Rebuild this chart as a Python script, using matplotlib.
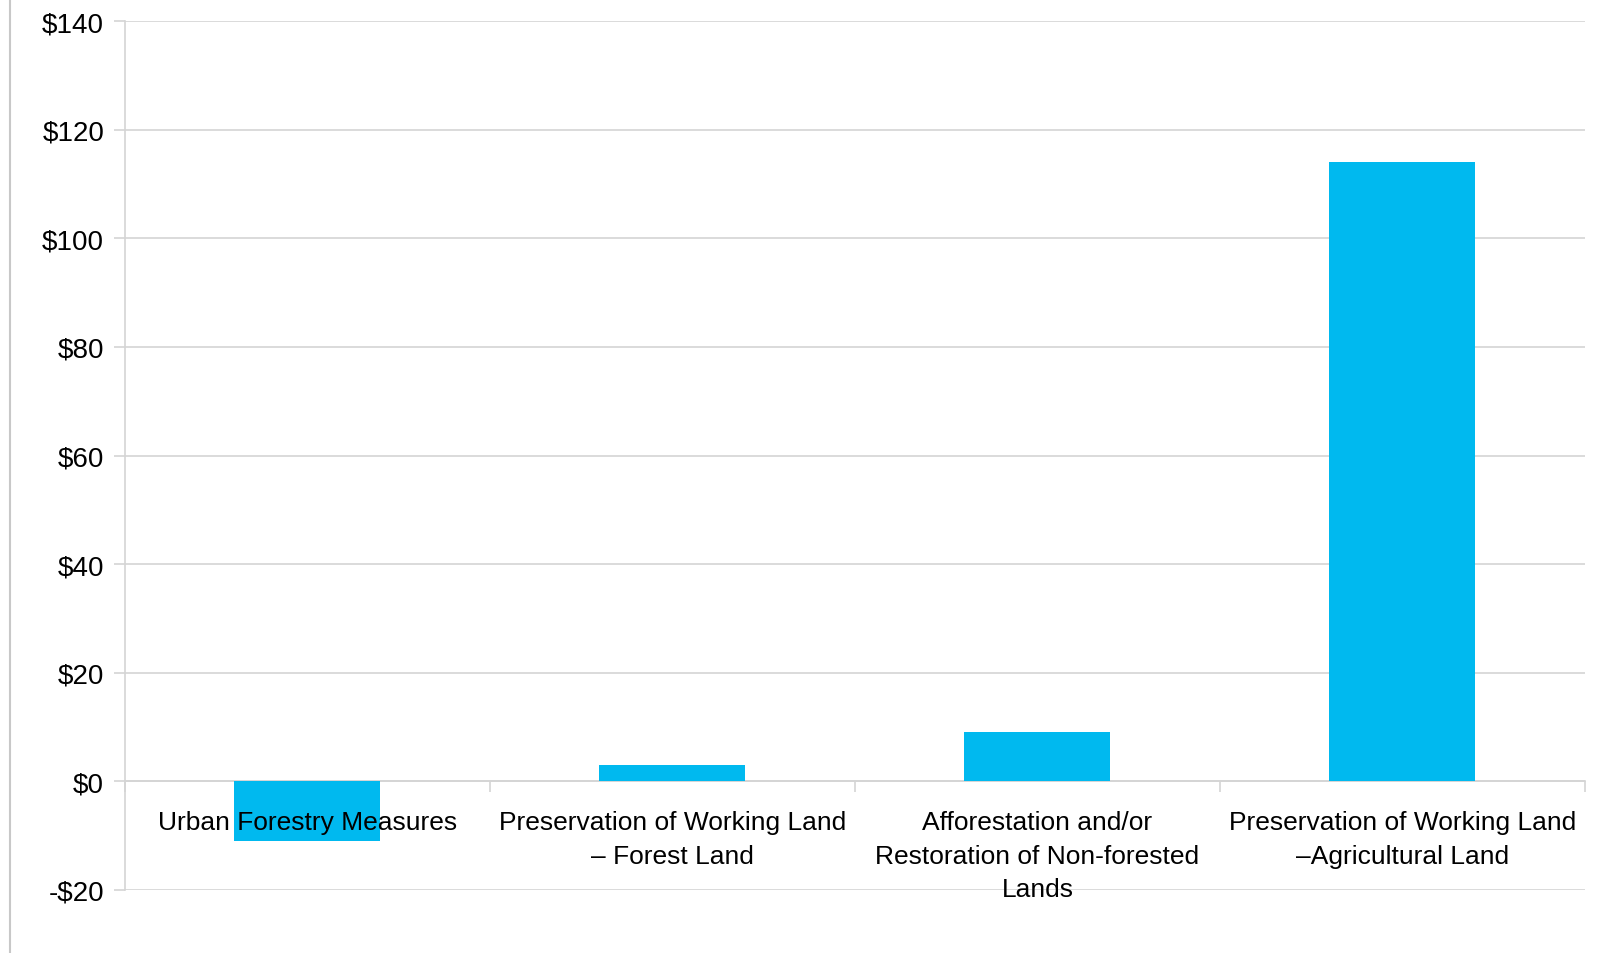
import matplotlib.pyplot as plt
import numpy as np

categories = ["Urban Forestry Measures",
              "Preservation of Working Land\n\u2013 Forest Land",
              "Afforestation and/or\nRestoration of Non-forested\nLands",
              "Preservation of Working Land\n\u2013Agricultural Land"]
values = [-11, 3, 9, 114]
yticks = [-20, 0, 20, 40, 60, 80, 100, 120, 140]

plt.rcParams['font.family'] = ['Liberation Sans', 'DejaVu Sans']
fig = plt.figure(figsize=(16.08, 9.54), dpi=100)
ax = fig.add_axes([125 / 1608, 1 - 891 / 954, 1460 / 1608, (891 - 22) / 954])

x = np.arange(len(categories))
ax.bar(x, values, width=0.4, color="#00b9ef", zorder=3)

ax.set_xlim(-0.5, len(categories) - 0.5)
ax.set_ylim(-20, 140)
ax.set_yticks(yticks)
ax.set_yticklabels([("-$%d" % -v) if v < 0 else "$%d" % v for v in yticks], fontsize=20)
ax.yaxis.grid(True, color="#d4d4d4", linewidth=1.2)
ax.set_axisbelow(True)
ax.tick_params(axis='y', length=8, width=1.2, color="#d4d4d4", pad=7)

# category axis sits at zero, ticks between categories
ax.spines['bottom'].set_position(('data', 0))
ax.spines['bottom'].set_color("#d4d4d4")
ax.spines['bottom'].set_linewidth(1.2)
ax.set_xticks(x)
ax.set_xticklabels([])
ax.tick_params(axis='x', which='major', length=0)
ax.set_xticks(np.arange(len(categories) + 1) - 0.5, minor=True)
ax.tick_params(axis='x', which='minor', length=8, width=1.2, color="#d4d4d4", direction='out')
ax.spines['left'].set_color("#d4d4d4")
ax.spines['left'].set_linewidth(1.2)
ax.spines['top'].set_visible(False)
ax.spines['right'].set_visible(False)

for i, lab in enumerate(categories):
    ax.annotate(lab, (i, 0), xytext=(0, -29), textcoords='offset pixels',
                ha='center', va='top', fontsize=19, linespacing=1.5, zorder=5)

# thin vertical rule at the left edge of the figure
fig.add_artist(plt.Line2D([10 / 1608, 10 / 1608], [0, 1], color="#c8c8c8", linewidth=1.5))

fig.savefig("out.png", dpi=100)
